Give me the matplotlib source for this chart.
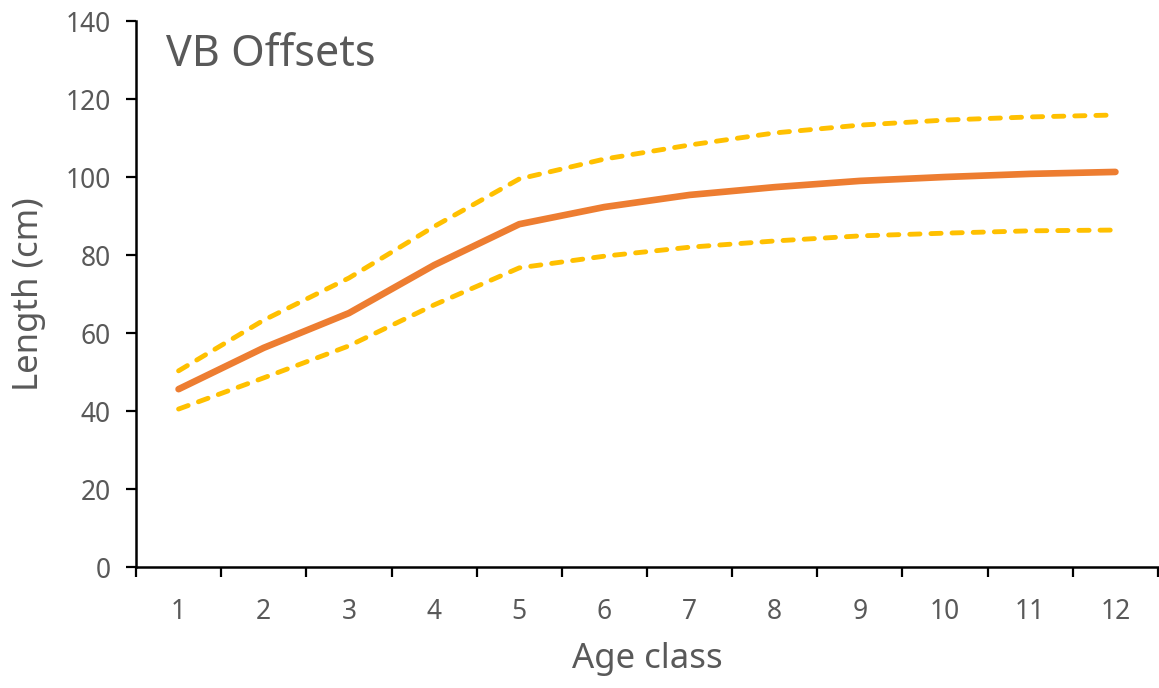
import matplotlib.pyplot as plt
import numpy as np

age_class = [1, 2, 3, 4, 5, 6, 7, 8, 9, 10, 11, 12]
length_mean = [45.6, 56.2, 65.1, 77.4, 87.9, 92.3, 95.4, 97.4, 99.0, 100.0, 100.8, 101.3]
length_upper = [50.3, 63.3, 74.1, 87.3, 99.5, 104.6, 108.2, 111.3, 113.3, 114.6, 115.4, 115.9]
length_lower = [40.5, 48.5, 56.7, 67.2, 76.7, 79.7, 82.0, 83.6, 84.9, 85.6, 86.2, 86.4]
y_ticks = [0, 20, 40, 60, 80, 100, 120, 140]

plt.rcParams['font.family'] = ['Noto Sans', 'DejaVu Sans']
text_color = '#595959'

fig = plt.figure(figsize=(11.59, 6.88), dpi=100)
ax = fig.add_axes([136 / 1159, 1 - 567 / 688, 1022 / 1159, 546 / 688])

dash = (0, (2.1, 2.25))
for series in (length_upper, length_lower):
    ax.plot(age_class, series, color='#FFC000', lw=3.5, ls=dash,
            dash_capstyle='round', dash_joinstyle='round')
ax.plot(age_class, length_mean, color='#ED7D31', lw=4.8, solid_capstyle='round',
        solid_joinstyle='round')

ax.set_xlim(0.5, 12.5)
ax.set_ylim(0, 140)
ax.set_yticks(y_ticks)
ax.set_xticks(np.arange(0.5, 13.0, 1.0))
ax.set_xticklabels([])
ax.set_xticks(age_class, minor=True)
ax.set_xticklabels([str(a) for a in age_class], minor=True)

ax.tick_params(axis='x', which='major', direction='out', length=7, width=1.6, color='black')
ax.tick_params(axis='x', which='minor', length=0, pad=22, labelsize=19, labelcolor=text_color)
ax.tick_params(axis='y', direction='out', length=7, width=1.6, color='black', pad=11,
               labelsize=19, labelcolor=text_color)

for side in ['top', 'right']:
    ax.spines[side].set_visible(False)
for side in ['left', 'bottom']:
    ax.spines[side].set_linewidth(1.8)
    ax.spines[side].set_color('black')

ax.set_xlabel('Age class', fontsize=25, color=text_color, labelpad=12)
ax.set_ylabel('Length (cm)', fontsize=25, color=text_color, labelpad=14)

ax.text(166 / 1159, 1 - 55 / 688, 'VB Offsets', transform=fig.transFigure,
        fontsize=31, color=text_color, ha='left', va='center')

fig.savefig('out.png', dpi=100)
